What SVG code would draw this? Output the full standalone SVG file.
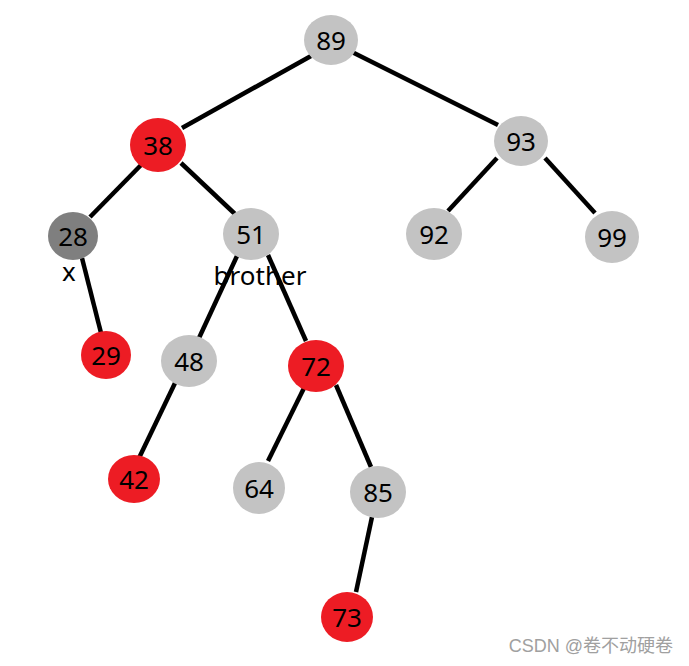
<svg xmlns="http://www.w3.org/2000/svg" width="689" height="666" viewBox="0 0 689 666">
<style>
.n text{font-family:"Noto Sans","Open Sans",sans-serif;font-size:26px;fill:#000;text-anchor:middle;dominant-baseline:central}
.g{fill:#c3c3c3}.r{fill:#ed1c24}.d{fill:#7f7f7f}
.e line{stroke:#000;stroke-width:4.5;stroke-linecap:butt}
.lbl{font-family:"Noto Sans","Open Sans",sans-serif;font-size:26px;fill:#000;text-anchor:middle}
</style>
<rect width="689" height="666" fill="#fff"/>
<g id="edges" class="e">
<line x1="311" y1="56" x2="182" y2="128"/>
<line x1="348" y1="50" x2="498" y2="125"/>
<line x1="143" y1="163" x2="90" y2="217"/>
<line x1="181" y1="163" x2="235" y2="214"/>
<line x1="497" y1="158" x2="448" y2="211"/>
<line x1="545" y1="158" x2="595" y2="213"/>
<line x1="82" y1="258" x2="101" y2="333"/>
<line x1="237" y1="256" x2="199" y2="338"/>
<line x1="268" y1="255" x2="306" y2="341"/>
<line x1="176" y1="381" x2="139" y2="458"/>
<line x1="305" y1="386" x2="268" y2="461"/>
<line x1="336" y1="385" x2="371" y2="467"/>
<line x1="372" y1="517" x2="356" y2="592"/>
</g>
<g id="n89" class="n"><ellipse class="g" cx="331" cy="40" rx="27" ry="25"/><text x="331" y="40">89</text></g>
<g id="n38" class="n"><ellipse class="r" cx="158" cy="145" rx="28" ry="27"/><text x="158" y="145">38</text></g>
<g id="n93" class="n"><ellipse class="g" cx="521" cy="141" rx="27" ry="25"/><text x="521" y="141">93</text></g>
<g id="n28" class="n"><ellipse class="d" cx="73" cy="236" rx="25" ry="24"/><text x="73" y="236">28</text></g>
<g id="n51" class="n"><ellipse class="g" cx="251" cy="234" rx="28" ry="26"/><text x="251" y="234">51</text></g>
<g id="n92" class="n"><ellipse class="g" cx="434" cy="234" rx="28" ry="26"/><text x="434" y="234">92</text></g>
<g id="n99" class="n"><ellipse class="g" cx="612" cy="237" rx="27" ry="26"/><text x="612" y="237">99</text></g>
<g id="n29" class="n"><ellipse class="r" cx="106" cy="355" rx="25" ry="24"/><text x="106" y="355">29</text></g>
<g id="n48" class="n"><ellipse class="g" cx="189" cy="361" rx="28" ry="26"/><text x="189" y="361">48</text></g>
<g id="n72" class="n"><ellipse class="r" cx="316" cy="366" rx="28" ry="26"/><text x="316" y="366">72</text></g>
<g id="n42" class="n"><ellipse class="r" cx="134" cy="479" rx="26" ry="24"/><text x="134" y="479">42</text></g>
<g id="n64" class="n"><ellipse class="g" cx="259" cy="488" rx="26" ry="26"/><text x="259" y="488">64</text></g>
<g id="n85" class="n"><ellipse class="g" cx="378" cy="492" rx="28" ry="26"/><text x="378" y="492">85</text></g>
<g id="n73" class="n"><ellipse class="r" cx="347" cy="617" rx="26" ry="25"/><text x="347" y="617">73</text></g>
<g id="labels">
<text class="lbl" x="69" y="281">x</text>
<text class="lbl" x="260" y="285">brother</text>
</g>
<text x="673" y="652" font-family="'Liberation Sans','Noto Sans CJK SC',sans-serif" font-size="18" fill="#a0a0a0" text-anchor="end">CSDN @卷不动硬卷</text>
</svg>
